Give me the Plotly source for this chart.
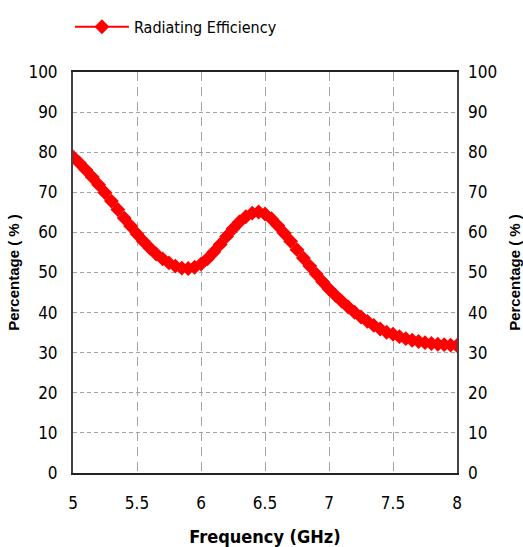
import plotly.graph_objects as go

freq_ghz = [5.00, 5.05, 5.10, 5.15, 5.20, 5.25, 5.30, 5.35, 5.40, 5.45,
            5.50, 5.55, 5.60, 5.65, 5.70, 5.75, 5.80, 5.85, 5.90, 5.95,
            6.00, 6.05, 6.10, 6.15, 6.20, 6.25, 6.30, 6.35, 6.40, 6.45,
            6.50, 6.55, 6.60, 6.65, 6.70, 6.75, 6.80, 6.85, 6.90, 6.95,
            7.00, 7.05, 7.10, 7.15, 7.20, 7.25, 7.30, 7.35, 7.40, 7.45,
            7.50, 7.55, 7.60, 7.65, 7.70, 7.75, 7.80, 7.85, 7.90, 7.95, 8.00]
efficiency = [78.8, 77.3, 75.6, 73.8, 71.9, 69.9, 67.8, 65.7, 63.6, 61.6,
              59.6, 57.8, 56.1, 54.6, 53.4, 52.4, 51.6, 51.1, 51.0, 51.3,
              52.1, 53.4, 55.1, 57.0, 59.0, 60.9, 62.6, 63.9, 64.8, 65.1,
              64.6, 63.4, 61.7, 59.8, 57.8, 55.7, 53.6, 51.6, 49.6, 47.7,
              45.9, 44.3, 42.8, 41.4, 40.1, 38.9, 37.8, 36.8, 35.9, 35.1,
              34.6, 34.0, 33.5, 33.1, 32.8, 32.5, 32.3, 32.1, 32.0, 31.9, 31.8]
x_ticks = [5, 5.5, 6, 6.5, 7, 7.5, 8]
x_tick_text = ["5", "5.5", "6", "6.5", "7", "7.5", "8"]
y_ticks = [0, 10, 20, 30, 40, 50, 60, 70, 80, 90, 100]
series_name = "Radiating Efficiency"

NARROW = "DejaVu Sans Condensed, Liberation Sans Narrow, Arial Narrow, sans-serif"
BOLD = "Liberation Sans, Arial"
grid_col = "#a4a4a4"

fig = go.Figure()
fig.add_trace(go.Scatter(
    x=freq_ghz, y=efficiency, name=series_name, mode="lines+markers",
    line=dict(color="#ff0000", width=2),
    marker=dict(symbol="diamond-open", size=6, color="#ff0000",
                line=dict(color="#ff0000", width=5)),
))
# invisible trace to activate right axis
fig.add_trace(go.Scatter(x=[5, 8], y=[0, 100], yaxis="y2", mode="markers",
                         marker=dict(opacity=0), showlegend=False, hoverinfo="skip"))

fig.update_layout(
    width=523, height=547,
    margin=dict(l=73, r=66, t=72, b=74, autoexpand=False),
    paper_bgcolor="white", plot_bgcolor="white",
    showlegend=True,
    legend=dict(x=-0.008, y=1.155, xanchor="left", yanchor="top", itemwidth=54,
                font=dict(family=NARROW, size=16, color="#000000"),
                bgcolor="rgba(0,0,0,0)"),
    xaxis=dict(range=[5, 8], tickvals=x_ticks, ticktext=x_tick_text,
               automargin=False, tickangle=0,
               showgrid=True, gridcolor=grid_col, griddash="9px,6px", gridwidth=1,
               showline=True, linecolor="#222222", linewidth=2, mirror=True,
               ticks="", ticklabelstandoff=14, zeroline=False,
               tickfont=dict(family=NARROW, size=17, color="#000000"),
               title=dict(text="<b>Frequency (GHz)</b>", standoff=19,
                          font=dict(family=NARROW, size=18, color="#000000"))),
    yaxis=dict(range=[0, 100], tickvals=y_ticks, automargin=False,
               showgrid=True, gridcolor=grid_col, griddash="4px,3px", gridwidth=1,
               showline=True, linecolor="#444444", linewidth=2, mirror=True,
               ticks="", ticklabelstandoff=10, zeroline=False,
               tickfont=dict(family=NARROW, size=17, color="#000000"),
               title=dict(text="<b>Percentage ( % )</b>", standoff=5,
                          font=dict(family=BOLD, size=15, color="#000000"))),
    yaxis2=dict(range=[0, 100], tickvals=y_ticks, overlaying="y", side="right",
                automargin=False,
                showgrid=False, zeroline=False, showline=False,
                ticks="", ticklabelstandoff=10,
                tickfont=dict(family=NARROW, size=17, color="#000000"),
                title=dict(text="<b>Percentage ( % )</b>", standoff=14,
                           font=dict(family=BOLD, size=15, color="#000000"))),
)

fig.write_html("out.html")
